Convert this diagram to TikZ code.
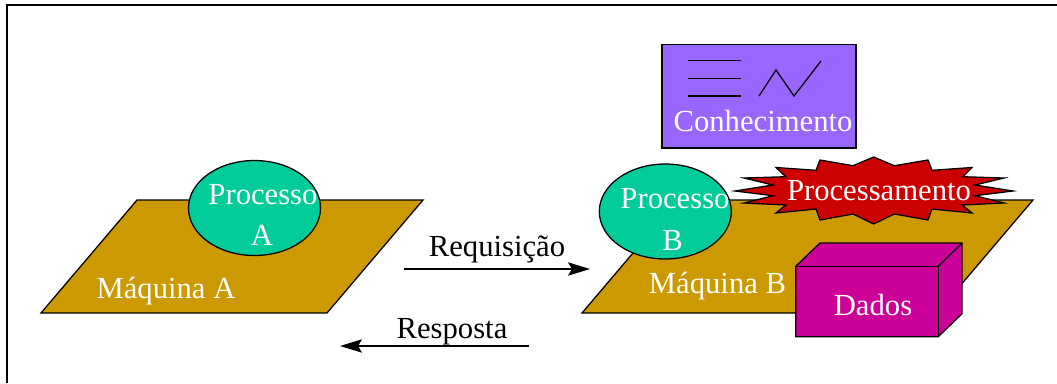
\documentclass[tikz,border=0pt]{standalone}
\usepackage{fontspec}
\setmainfont{Liberation Serif}
\usetikzlibrary{arrows.meta,shapes.geometric}
\definecolor{machine}{HTML}{CC9900}
\definecolor{proc}{HTML}{00CC99}
\definecolor{know}{HTML}{9966FF}
\definecolor{burst}{HTML}{CC0000}
\definecolor{data}{HTML}{CC0099}
\tikzset{
  x=0.75pt,y=-0.75pt,
  every path/.style={line width=0.95pt,line join=miter},
  lbl/.style={anchor=base,inner sep=0pt,outer sep=0pt,font=\fontsize{23}{23}\selectfont},
  wlbl/.style={lbl,text=white},
  machinebox/.style={draw=black,fill=machine},
  procell/.style={draw=black,fill=proc,ellipse,inner sep=0pt,minimum width=99pt,minimum height=71.25pt},
  msgarrow/.style={-{Stealth[length=16.5pt,width=10pt,inset=3pt]},draw=black},
}
\begin{document}
\begin{tikzpicture}
\useasboundingbox (0,0) rectangle (1057,383);
% frame, cut by the page at right and bottom
\coordinate (ftr) at (1057,5);
\coordinate (ftl) at (7,5);
\coordinate (fbl) at (7,383);
\draw (ftr) -- (ftl) -- (fbl);
% machine A
\draw[machinebox] (41,313) -- (137,200) -- (423,200) -- (327,313) -- cycle;
\node[procell] (procA) at (254.5,208) {};
\node[wlbl] (procAt) at (263,204) {Processo};
\node[wlbl] (procAb) at (262,245) {A};
\node[wlbl] (mA) at (166,298) {Máquina A};
% machine B
\draw[machinebox] (582,313) -- (678,200) -- (1033,200) -- (937,313) -- cycle;
\node[procell] (procB) at (665.3,211.5) {};
% knowledge
\node[draw=black,fill=know,minimum width=145.5pt,minimum height=77.6pt,inner sep=0pt] (know) at (759,96.3) {};
\draw (688,60.7) -- (741,60.7);
\draw (688,78.5) -- (741,78.5);
\draw (688,96) -- (741,96);
\draw (759,96) -- (776,70) -- (794,96) -- (821,61);
\node[wlbl] (knowt) at (763,131) {Conhecimento};
% burst
\draw[fill=burst] (873.7,157) -- (894.4,165.7) -- (928,160) -- (932,170.3) -- (972,167.5)
  -- (962.7,176.7) -- (1004,178) -- (975,185) -- (1013,191) -- (975,195.7)
  -- (1004,203) -- (962,205) -- (972,213) -- (932,209) -- (928,220)
  -- (894.4,214) -- (873.7,224) -- (853,214) -- (820,220) -- (816,209)
  -- (776,213) -- (785.7,205) -- (744,203) -- (773,195.7) -- (735,191)
  -- (773,185) -- (744,178) -- (785.7,176.7) -- (776,167.5) -- (816,170.3)
  -- (820,160) -- (853,165.7) -- cycle;
\node[wlbl] (burstt) at (879,200.7) {Processamento};
\node[wlbl] (procBt) at (675,208) {Processo};
\node[wlbl] (procBb) at (672.7,250) {B};
\node[wlbl] (mB) at (717.5,293) {Máquina B};
% data cube
\draw[fill=data] (795.7,266.3) -- (820,243) -- (962,243) -- (962,313.7) -- (938.3,336.7) -- (795.7,336.7) -- cycle;
\draw (795.7,266.3) -- (938.3,266.3) -- (938.3,336.7);
\draw (938.3,266.3) -- (962,243);
\node[wlbl] (dados) at (873,315.7) {Dados};
% messages
\coordinate (reqS) at (404,269);
\coordinate (reqE) at (590,269);
\coordinate (resS) at (529,346);
\coordinate (resE) at (340,346);
\draw[msgarrow] (reqS) -- (reqE);
\draw[msgarrow] (resS) -- (resE);
\node[lbl] (req) at (497,256.7) {Requisição};
\node[lbl] (res) at (452,338) {Resposta};
\end{tikzpicture}
\end{document}
